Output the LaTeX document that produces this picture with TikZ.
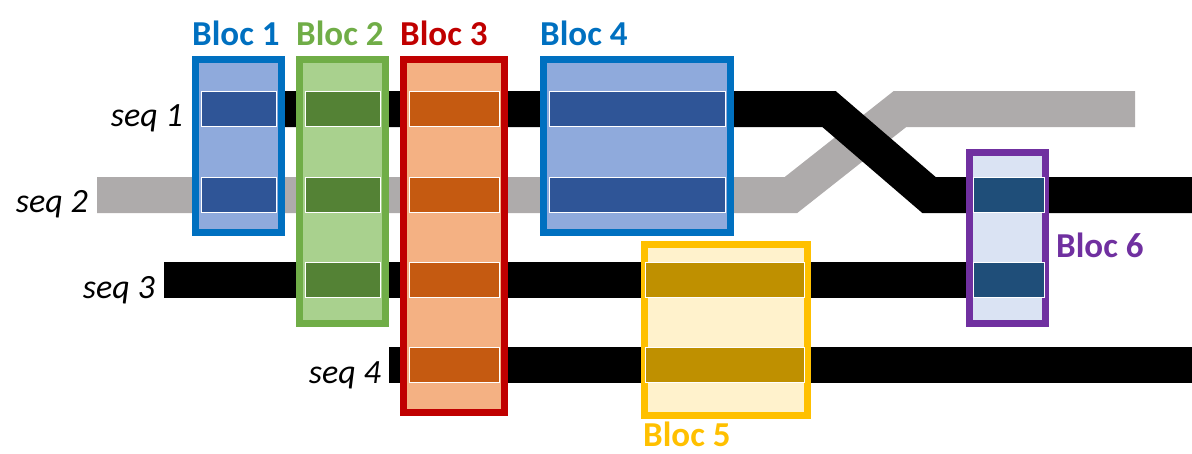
\documentclass[tikz,border=0pt]{standalone}
\usepackage{fontspec}
\setmainfont{Carlito}
\usetikzlibrary{positioning, calc}

% Colours
\definecolor{trackgray}{HTML}{AEABAB}
\definecolor{blueline}{HTML}{0070C0}
\definecolor{bluefill}{HTML}{8FAADC}
\definecolor{bluesegment}{HTML}{2F5597}
\definecolor{greenline}{HTML}{70AD47}
\definecolor{greenfill}{HTML}{A9D18E}
\definecolor{greensegment}{HTML}{548235}
\definecolor{redline}{HTML}{C00000}
\definecolor{redfill}{HTML}{F4B183}
\definecolor{redsegment}{HTML}{C55A11}
\definecolor{yellowline}{HTML}{FFC000}
\definecolor{yellowfill}{HTML}{FFF2CC}
\definecolor{yellowsegment}{HTML}{BF9000}
\definecolor{purpleline}{HTML}{7030A0}
\definecolor{purplefill}{HTML}{DAE3F3}
\definecolor{purplesegment}{HTML}{1F4E79}

\begin{document}
\begin{tikzpicture}[
    x=1pt, y=-1pt,
    % Styles
    track/.style={ % Sequence track
        line width=36pt,
        line join=miter
    },
    bloc/.style={ % Bloc frame
        rectangle,
        draw,
        line width=7pt,
        inner sep=0pt
    },
    segment/.style={ % Aligned segment inside a bloc
        rectangle,
        draw=white,
        line width=1pt,
        inner sep=0pt,
        minimum height=35pt
    },
    seqlabel/.style={ % Sequence names
        font=\itshape\fontsize{34}{34}\selectfont,
        anchor=base east,
        inner sep=0pt
    },
    bloclabel/.style={ % Bloc names
        font=\bfseries\fontsize{35}{35}\selectfont,
        anchor=base west,
        inner sep=0pt
    }
]
    \useasboundingbox (0,0) rectangle (1192,453);

    % Rows
    \coordinate (r1) at (0,109);
    \coordinate (r2) at (0,195);
    \coordinate (r3) at (0,280);
    \coordinate (r4) at (0,365);

    % Sequence tracks
    \coordinate (s1a) at (192,109);
    \coordinate (s1b) at (829,109);
    \coordinate (s1c) at (929,195);
    \coordinate (s1d) at (1192,195);
    \coordinate (s2a) at (97,195);
    \coordinate (s2b) at (791,195);
    \coordinate (s2c) at (900,109);
    \coordinate (s2d) at (1135,109);
    \coordinate (s3a) at (164,280);
    \coordinate (s3b) at (1000,280);
    \coordinate (s4a) at (389,365);
    \coordinate (s4b) at (1192,365);

    \draw [track, trackgray] (s2a) -- (s2b) -- (s2c) -- (s2d);
    \draw [track, black] (s1a) -- (s1b) -- (s1c) -- (s1d);
    \draw [track, black] (s3a) -- (s3b);
    \draw [track, black] (s4a) -- (s4b);

    \node [seqlabel] (l1) at ([xshift=-9pt, yshift=-17pt]s1a) {seq 1};
    \node [seqlabel] (l2) at ([xshift=-9pt, yshift=-17pt]s2a) {seq 2};
    \node [seqlabel] (l3) at ([xshift=-9pt, yshift=-18pt]s3a) {seq 3};
    \node [seqlabel] (l4) at ([xshift=-8pt, yshift=-18pt]s4a) {seq 4};

    % Blocs
    \node [bloc, draw=blueline, fill=bluefill, minimum width=86pt, minimum height=173pt] (b1) at (238.5,146) {};
    \node [bloc, draw=greenline, fill=greenfill, minimum width=86pt, minimum height=264pt] (b2) at (342.5,191.5) {};
    \node [bloc, draw=redline, fill=redfill, minimum width=101pt, minimum height=353pt] (b3) at (454,236) {};
    \node [bloc, draw=blueline, fill=bluefill, minimum width=187pt, minimum height=173pt] (b4) at (637,146) {};
    \node [bloc, draw=yellowline, fill=yellowfill, minimum width=163pt, minimum height=171pt] (b5) at (726,330) {};
    \node [bloc, draw=purpleline, fill=purplefill, minimum width=76pt, minimum height=171pt] (b6) at (1007.5,238) {};

    % Segments in the blocs
    \foreach \r in {r1, r2}
        \node [segment, fill=bluesegment, minimum width=75pt] at (b1 |- \r) {};
    \foreach \r in {r1, r2, r3}
        \node [segment, fill=greensegment, minimum width=75pt] at (b2 |- \r) {};
    \foreach \r in {r1, r2, r3, r4}
        \node [segment, fill=redsegment, minimum width=90pt] at (b3 |- \r) {};
    \foreach \r in {r1, r2}
        \node [segment, fill=bluesegment, minimum width=176pt] at (b4 |- \r) {};
    \foreach \r in {r3, r4}
        \node [segment, fill=yellowsegment, minimum width=159pt] at ([xshift=-1.5pt]b5 |- \r) {};
    \foreach \r in {r2, r3}
        \node [segment, fill=purplesegment, minimum width=71pt] at ([xshift=1pt]b6 |- \r) {};

    % Bloc names
    \node [bloclabel, text=blueline] (t1) at ([yshift=11pt]b1.north west) {Bloc 1};
    \node [bloclabel, text=greenline] (t2) at ([yshift=11pt]b2.north west) {Bloc 2};
    \node [bloclabel, text=redline] (t3) at ([yshift=11pt]b3.north west) {Bloc 3};
    \node [bloclabel, text=blueline] (t4) at ([yshift=11pt]b4.north west) {Bloc 4};
    \node [bloclabel, text=yellowline] (t5) at ([xshift=2pt, yshift=-27pt]b5.south west) {Bloc 5};
    \node [bloclabel, text=purpleline] (t6) at ([xshift=7pt, yshift=-19pt]b6.east) {Bloc 6};
\end{tikzpicture}
\end{document}
